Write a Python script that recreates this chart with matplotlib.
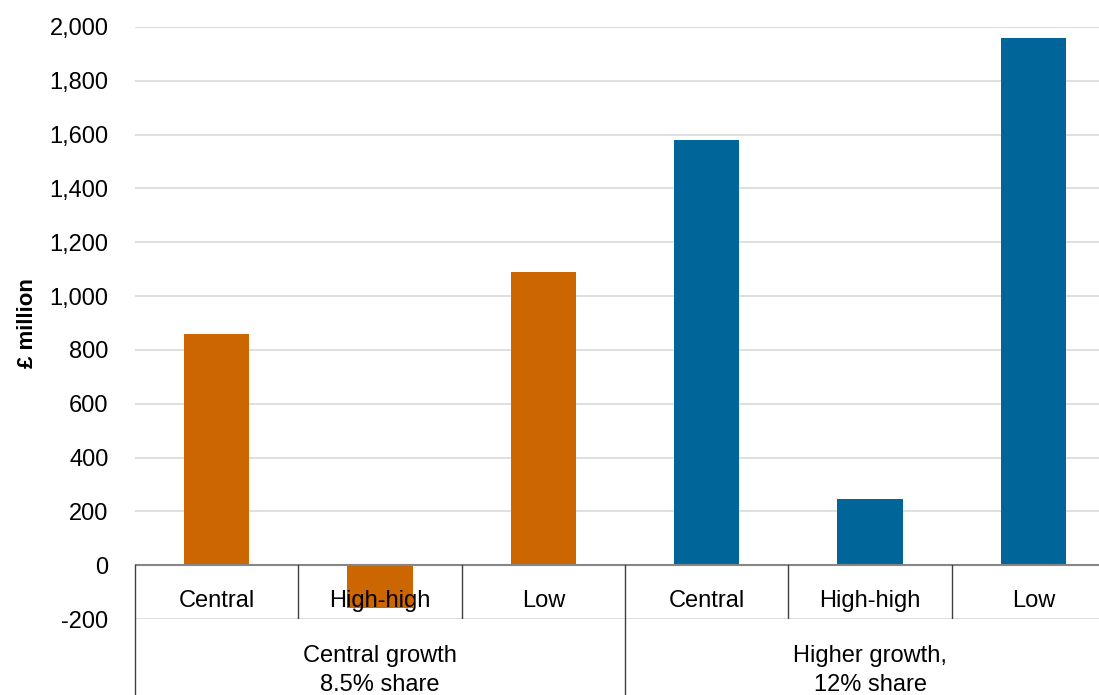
import matplotlib.pyplot as plt
from matplotlib.ticker import FuncFormatter

plt.rcParams['font.family'] = ['Liberation Sans', 'DejaVu Sans']

scenarios = ["Central", "High-high", "Low", "Central", "High-high", "Low"]
groups = ["Central growth\n8.5% share", "Higher growth,\n12% share"]
values = [860, -160, 1090, 1580, 245, 1960]
colors = ["#CC6600"] * 3 + ["#006699"] * 3

fig = plt.figure(figsize=(10.99, 6.95), dpi=100)
ax = fig.add_axes([135 / 1099, 76 / 695, 980 / 1099, 592 / 695])

x = range(len(values))
ax.bar(x, values, width=0.4, color=colors, zorder=2)

ax.set_xlim(-0.5, 5.5)
ax.set_ylim(-200, 2000)
ax.set_yticks(range(-200, 2001, 200))
ax.yaxis.set_major_formatter(FuncFormatter(lambda v, p: f"{int(v):,}"))
ax.tick_params(axis='y', length=0, pad=19, labelsize=17)
ax.set_xticks([])
ax.grid(axis='y', color='#d9d9d9', linewidth=1.2, zorder=0)
for s in ax.spines.values():
    s.set_visible(False)
ax.axhline(0, color='#868686', linewidth=1.5, zorder=3)

ax.set_ylabel("£ million", fontsize=16, fontweight='bold', labelpad=8)

# scenario labels just under the zero line
for i, name in enumerate(scenarios):
    ax.text(i, -132, name, ha='center', va='center', fontsize=17, zorder=4)

# separators between scenarios
for xs in [0.5, 1.5, 3.5, 4.5]:
    ax.plot([xs, xs], [0, -200], color='#404040', linewidth=1, zorder=3)

# group separators run down past the axes
for xs in [-0.5, 2.5, 5.5]:
    ax.plot([xs, xs], [0, -600], color='#404040', linewidth=1,
            zorder=3, clip_on=False)

# group labels below the axes
for gi, g in enumerate(groups):
    ax.text(gi * 3 + 1, -392, g, ha='center', va='center', fontsize=17,
            linespacing=1.4, clip_on=False)

fig.savefig("out.png", dpi=100)
